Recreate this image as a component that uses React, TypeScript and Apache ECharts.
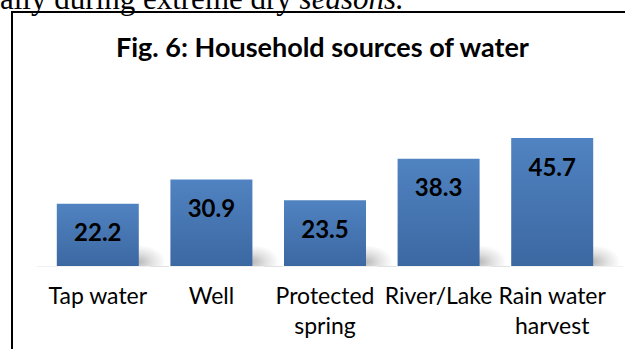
import React, { useEffect, useRef } from "react";
import * as echarts from "echarts";

const categories = ["Tap water", "Well", "Protected spring", "River/Lake", "Rain water harvest"];
const values = [22.2, 30.9, 23.5, 38.3, 45.7];
const titleText = "Fig. 6: Household sources of water";
const pageTextPlain = "ally during extreme dry ";
const pageTextItalic = "seasons.";

function wrapLabel(s: string): string {
  if (s.length <= 10) return s;
  const i = s.lastIndexOf(" ");
  return i > 0 ? s.slice(0, i) + "\n" + s.slice(i + 1) : s;
}

export default function App() {
  const ref = useRef<HTMLDivElement>(null);
  useEffect(() => {
    if (!ref.current) return;
    const chart = echarts.init(ref.current, null, { renderer: "svg" });
    const BW = 82;
    chart.setOption({
      animation: false,
      backgroundColor: "#ffffff",
      title: {
        text: titleText,
        left: 116,
        top: 33,
        padding: 0,
        textStyle: { fontFamily: "Lato", fontWeight: "bold", fontSize: 27, color: "#000" },
      },
      graphic: [
        {
          type: "text",
          left: 0,
          top: -17,
          style: {
            text: "{a|" + pageTextPlain + "}{b|" + pageTextItalic + "}",
            rich: {
              a: { fontFamily: "Liberation Serif", fontSize: 31, fill: "#000" },
              b: { fontFamily: "Liberation Serif", fontSize: 31, fontStyle: "italic", fill: "#000" },
            },
          },
          z: 10,
        },
        {
          type: "rect",
          shape: { x: 12, y: 12, width: 700, height: 400 },
          style: { fill: "none", stroke: "#000", lineWidth: 2 },
          silent: true,
        },
      ],
      grid: { left: 41, right: 16, top: 126, bottom: 83 },
      xAxis: {
        type: "category",
        data: categories,
        axisLine: { show: false },
        axisTick: { show: false },
        axisLabel: {
          interval: 0,
          margin: 14,
          fontFamily: "Lato",
          fontSize: 23,
          lineHeight: 30,
          color: "#000",
          formatter: (v: string) => wrapLabel(v),
        },
      },
      yAxis: { type: "value", min: 0, max: 50, show: false, splitLine: { show: false } },
      series: [
        {
          type: "custom",
          z: 1,
          silent: true,
          data: values,
          renderItem: (params: any, api: any) => {
            const idx = params.dataIndex;
            const base = api.coord([idx, 0]);
            const cx = base[0];
            const by = base[1];
            const r = cx + BW / 2;
            return {
              type: "group",
              children: [
                {
                  type: "rect",
                  shape: { x: r - 20, y: by - 28, width: 46, height: 28 },
                  style: {
                    fill: new echarts.graphic.RadialGradient(0.42, 0.85, 0.6, [
                      { offset: 0, color: "rgba(0,0,0,0.28)" },
                      { offset: 0.5, color: "rgba(0,0,0,0.12)" },
                      { offset: 1, color: "rgba(0,0,0,0)" },
                    ]),
                  },
                },
                {
                  type: "rect",
                  shape: { x: cx - BW / 2 - 20, y: by, width: BW + 50, height: 1 },
                  style: { fill: "rgba(0,0,0,0.06)" },
                },
              ],
            };
          },
        },
        {
          type: "bar",
          z: 2,
          data: values,
          barWidth: BW,
          itemStyle: {
            color: new echarts.graphic.LinearGradient(0, 0, 0, 1, [
              { offset: 0, color: "#5083c1" },
              { offset: 1, color: "#3c68a2" },
            ]),
          },
          label: {
            show: true,
            position: "insideTop",
            distance: 16,
            fontFamily: "Lato",
            fontWeight: "bold",
            fontSize: 24,
            color: "#000",
            formatter: (p: any) => p.value.toFixed(1),
          },
        },
      ],
    });
    return () => chart.dispose();
  }, []);
  return (
    <div
      ref={ref}
      style={{ position: "fixed", left: 0, top: 0, width: 625, height: 349 }}
    />
  );
}
